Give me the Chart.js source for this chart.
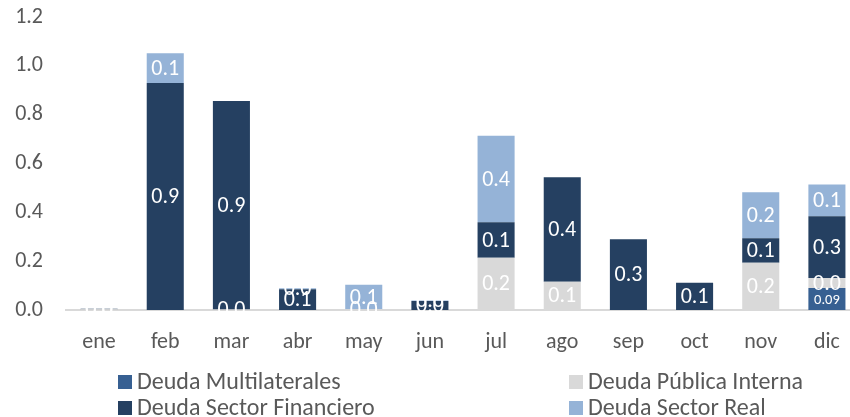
<!DOCTYPE html>
<html><head><meta charset="utf-8">
<script src="https://cdn.jsdelivr.net/npm/chart.js@4"></script>
<style>
html,body{margin:0;padding:0;overflow:hidden;background:#fff;width:850px;height:417px}
#wrap{width:860px;height:417px;position:relative}
</style></head>
<body><div id="wrap"><canvas id="c" width="860" height="417"></canvas></div>
<script>
const months = ['ene','feb','mar','abr','may','jun','jul','ago','sep','oct','nov','dic'];
const seriesNames = ['Deuda Multilaterales','Deuda Pública Interna','Deuda Sector Financiero','Deuda Sector Real'];
const multilaterales   = [null, null, null, null, null, null, null, null, null, null, null, 0.09];
const publicaInterna   = [0.003, null, 0.002, null, 0.003, null, 0.214, 0.116, null, null, 0.194, 0.041];
const sectorFinanciero = [0.002, 0.93, 0.854, 0.085, null, 0.037, 0.145, 0.428, 0.29, 0.112, 0.10, 0.253];
const sectorReal       = [null, 0.122, null, 0.004, 0.10, 0.002, 0.355, null, null, null, 0.188, 0.13];
const yTickValues = [0, 0.2, 0.4, 0.6, 0.8, 1.0, 1.2];

const colors = ['#376092', '#D9D9D9', '#254061', '#95B3D7'];
const labelDecimals = [2, 1, 1, 1];
const labelSizes = [14.5, 22, 22, 22];
const FONT = 'Carlito, Lato, sans-serif';

const dataLabels = {
  id: 'dataLabels',
  afterDatasetsDraw(chart) {
    const ctx = chart.ctx;
    ctx.save();
    ctx.textAlign = 'center';
    ctx.textBaseline = 'middle';
    ctx.fillStyle = '#FFFFFF';
    chart.data.datasets.forEach((ds, di) => {
      const meta = chart.getDatasetMeta(di);
      ctx.font = labelSizes[di] + 'px ' + FONT;
      meta.data.forEach((bar, i) => {
        const v = ds.data[i];
        if (v === null || v === undefined) return;
        const cy = (bar.y + bar.base) / 2;
        ctx.fillText(v.toFixed(labelDecimals[di]), bar.x, cy + 1);
      });
    });
    ctx.restore();
  }
};

const gridLegend = {
  id: 'gridLegend',
  afterDraw(chart) {
    const ctx = chart.ctx;
    const cols = [118, 569];
    const rows = [382, 408];
    const order = [[0,0,0],[1,1,0],[2,0,1],[3,1,1]];
    ctx.save();
    ctx.font = '24px ' + FONT;
    ctx.textBaseline = 'middle';
    ctx.textAlign = 'left';
    order.forEach(([di, c, r]) => {
      const ds = chart.data.datasets[di];
      const x = cols[c], y = rows[r];
      ctx.fillStyle = ds.backgroundColor;
      ctx.fillRect(x, y - 7, 14, 14);
      ctx.fillStyle = '#595959';
      ctx.fillText(ds.label, x + 19, y + 1);
    });
    ctx.restore();
  }
};

const seriesData = [multilaterales, publicaInterna, sectorFinanciero, sectorReal];

new Chart(document.getElementById('c'), {
  type: 'bar',
  data: {
    labels: months,
    datasets: seriesData.map((d, i) => ({
      label: seriesNames[i],
      data: d,
      backgroundColor: colors[i],
      borderWidth: 0,
      barPercentage: 0.56,
      categoryPercentage: 1.0
    }))
  },
  options: {
    responsive: false,
    animation: false,
    layout: { padding: { top: 17, bottom: 57, left: 0, right: 0 } },
    plugins: { legend: { display: false }, tooltip: { enabled: false } },
    scales: {
      x: {
        stacked: true,
        grid: { display: false, drawTicks: false },
        border: { display: true, color: '#D9D9D9', width: 2 },
        ticks: { color: '#595959', font: { family: FONT, size: 22 }, padding: 19, maxRotation: 0 },
        afterFit(s) { s.height = 50; s.paddingLeft = 0; s.paddingRight = 0; }
      },
      y: {
        stacked: true,
        min: 0, max: 1.2,
        grid: { display: false, drawTicks: false },
        border: { display: false },
        afterBuildTicks(s) { s.ticks = yTickValues.map(v => ({ value: v })); },
        ticks: { color: '#595959', font: { family: FONT, size: 22 }, padding: 23,
                 callback: v => Number(v).toFixed(1) },
        afterFit(s) { s.width = 66; s.paddingTop = 0; s.paddingBottom = 0; }
      }
    }
  },
  plugins: [dataLabels, gridLegend]
});
</script>
</body></html>
